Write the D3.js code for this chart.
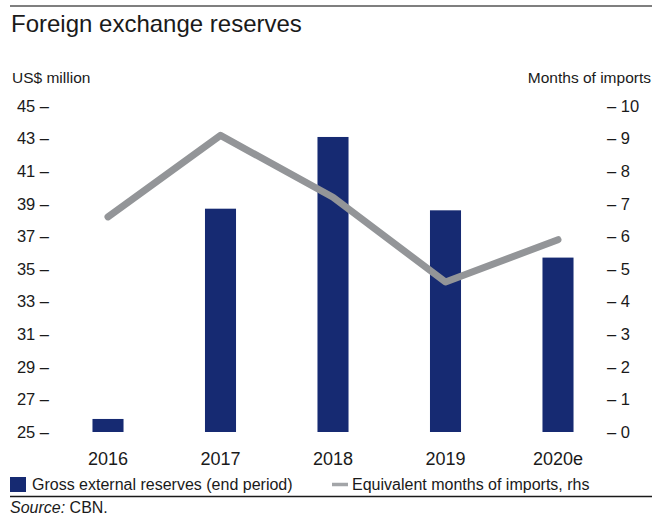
<!DOCTYPE html>
<html>
<head>
<meta charset="utf-8">
<script src="https://cdn.jsdelivr.net/npm/d3@7/dist/d3.min.js"></script>
<style>
  html, body { margin: 0; padding: 0; background: #fff; }
  svg { display: block; font-family: "Liberation Sans", Arial, sans-serif; }
</style>
</head>
<body>
<svg id="chart" width="652" height="517"></svg>
<script>
// Foreign exchange reserves, 2016–2020e
const years = ["2016", "2017", "2018", "2019", "2020e"];
const reserves = [25.8, 38.7, 43.1, 38.6, 35.7];      // US$ million (lhs)
const importMonths = [6.6, 9.1, 7.2, 4.6, 5.9];        // months of imports (rhs)
const leftTicks = [25, 27, 29, 31, 33, 35, 37, 39, 41, 43, 45];
const rightTicks = [0, 1, 2, 3, 4, 5, 6, 7, 8, 9, 10];

const barColor = "#162a72";
const lineColor = "#939598";
const textColor = "#1a1a1a";

const svg = d3.select("#chart");

const x = d3.scaleBand()
  .domain(years)
  .range([51.75, 614.25])
  .paddingInner(0.724)
  .paddingOuter(0.362);
const xCenter = d => x(d) + x.bandwidth() / 2;

const yLeft = d3.scaleLinear().domain([25, 45]).range([432, 106]);
const yRight = d3.scaleLinear().domain([0, 10]).range([432, 106]);

// Top rule and title
svg.append("line")
  .attr("x1", 10).attr("x2", 652).attr("y1", 6).attr("y2", 6)
  .attr("stroke", "#7f7f7f").attr("stroke-width", 2);
svg.append("text")
  .attr("x", 11).attr("y", 32)
  .attr("font-size", 24).attr("fill", textColor)
  .text("Foreign exchange reserves");

// Axis units
svg.append("text")
  .attr("x", 12).attr("y", 83)
  .attr("font-size", 15.5).attr("fill", textColor)
  .text("US$ million");
svg.append("text")
  .attr("x", 651).attr("y", 83).attr("text-anchor", "end")
  .attr("font-size", 15.5).attr("fill", textColor)
  .text("Months of imports");

// Left axis
const gL = svg.append("g")
  .attr("transform", "translate(49,0)")
  .call(d3.axisLeft(yLeft).tickValues(leftTicks).tickSize(0).tickPadding(0)
    .tickFormat(d => d + " \u2013"));
// Right axis
const gR = svg.append("g")
  .attr("transform", "translate(607,0)")
  .call(d3.axisRight(yRight).tickValues(rightTicks).tickSize(0).tickPadding(0)
    .tickFormat(d => "\u2013 " + d));
[gL, gR].forEach(g => {
  g.select(".domain").remove();
  g.selectAll("text")
    .attr("font-size", 16.5)
    .attr("font-family", "'Liberation Sans', Arial, sans-serif")
    .attr("fill", textColor);
});

// Category axis
const gX = svg.append("g")
  .attr("transform", "translate(0,445)")
  .call(d3.axisBottom(x).tickSize(0).tickPadding(0));
gX.select(".domain").remove();
gX.selectAll("text")
  .attr("dy", 0).attr("y", 20)
  .attr("font-size", 18)
  .attr("font-family", "'Liberation Sans', Arial, sans-serif")
  .attr("fill", textColor);

// Bars: gross external reserves
svg.append("g").selectAll("rect")
  .data(years)
  .join("rect")
  .attr("x", d => x(d))
  .attr("width", x.bandwidth())
  .attr("y", (d, i) => yLeft(reserves[i]))
  .attr("height", (d, i) => yLeft(25) - yLeft(reserves[i]))
  .attr("fill", barColor);

// Line: months of import cover
const line = d3.line()
  .x(d => xCenter(d[0]))
  .y(d => yRight(d[1]));
svg.append("path")
  .datum(years.map((y, i) => [y, importMonths[i]]))
  .attr("d", line)
  .attr("fill", "none")
  .attr("stroke", lineColor)
  .attr("stroke-width", 7)
  .attr("stroke-linecap", "round")
  .attr("stroke-linejoin", "round");

// Legend
const legend = svg.append("g").attr("font-size", 16).attr("fill", textColor);
legend.append("rect")
  .attr("x", 10).attr("y", 477).attr("width", 16).attr("height", 15)
  .attr("fill", barColor);
legend.append("text")
  .attr("x", 32).attr("y", 490)
  .text("Gross external reserves (end period)");
legend.append("line")
  .attr("x1", 332).attr("x2", 348).attr("y1", 484.5).attr("y2", 484.5)
  .attr("stroke", "#a3a5a8").attr("stroke-width", 3.5);
legend.append("text")
  .attr("x", 352).attr("y", 490)
  .text("Equivalent months of imports, rhs");

// Bottom rule and source
svg.append("line")
  .attr("x1", 10).attr("x2", 652).attr("y1", 496.5).attr("y2", 496.5)
  .attr("stroke", "#1a1a1a").attr("stroke-width", 1.5);
const src = svg.append("text")
  .attr("x", 10).attr("y", 513)
  .attr("font-size", 16).attr("fill", textColor);
src.append("tspan").attr("font-style", "italic").text("Source:");
src.append("tspan").text(" CBN.");
</script>
</body>
</html>
